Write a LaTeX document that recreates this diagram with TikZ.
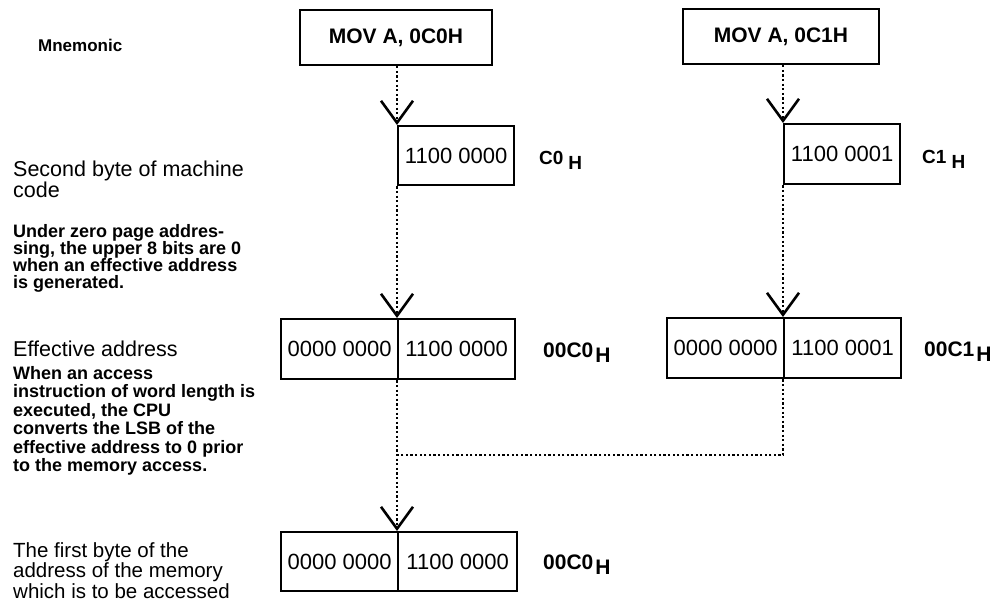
\documentclass[tikz,border=0pt]{standalone}
\usepackage{fontspec}
\setmainfont{Liberation Sans}
\usetikzlibrary{arrows.meta}
\begin{document}
\begin{tikzpicture}[x=1pt,y=-1pt,
  box/.style={draw,line width=2.3pt,inner sep=0pt,font=\fontsize{22}{22}\selectfont},
  movbox/.style={box,font=\bfseries\fontsize{21}{21}\selectfont,minimum height=55pt},
  bytebox/.style={box,anchor=north west,minimum width=117pt,minimum height=60pt},
  dotline/.style={line width=2.5pt,dash pattern=on 2.2pt off 2.4pt},
  vtip/.style={-{Straight Barb[length=22pt,width=32pt,line width=2.6pt]}},
  head/.style={anchor=base west,inner sep=0pt,font=\fontsize{21.5}{22}\selectfont},
  headb/.style={head,font=\fontsize{20.5}{21}\selectfont},
  small/.style={anchor=base west,inner sep=0pt,font=\bfseries\fontsize{18}{18}\selectfont},
  lab/.style={anchor=base west,inner sep=0pt,font=\bfseries\fontsize{19}{19}\selectfont},
  lablong/.style={lab,font=\bfseries\fontsize{21}{21}\selectfont}]
\useasboundingbox (0,0) rectangle (995,611);

% mnemonic boxes
\node[movbox,minimum width=192pt] (m1) at (396,37.5) {MOV A, 0C0H};
\node[movbox,minimum width=196pt] (m2) at (781,36.5) {MOV A, 0C1H};

% second byte boxes
\node[bytebox,minimum width=116pt,minimum height=59pt] (b1) at (397,125) {1100 0000};
\node[bytebox,minimum width=116pt] (b2) at (783,123) {1100 0001};

% effective address boxes
\node[bytebox] (e1l) at (280,318) {0000 0000};
\node[bytebox] (e1r) at (397,318) {1100 0000};
\node[bytebox] (e2l) at (666,317) {0000 0000};
\node[bytebox] (e2r) at (783,317) {1100 0001};

% first byte box
\node[bytebox,minimum height=59pt] (f1l) at (280,531) {0000 0000};
\node[bytebox,minimum width=119pt,minimum height=59pt] (f1r) at (397,531) {1100 0000};

% connectors
\coordinate (j) at (397,455);
\draw[dotline,vtip] (b1.north west |- m1.south) -- (b1.north west);
\draw[dotline,vtip] (b2.north west |- m2.south) -- (b2.north west);
\draw[dotline,vtip] (b1.south west) -- (e1r.north west);
\draw[dotline,vtip] (b2.south west) -- (e2r.north west);
\draw[dotline,vtip] (e1r.south west) -- (f1r.north west);
\draw[dotline] (e2r.south west) |- (j);

% hex labels
\node[lab] (c0) at (539,164) {C0\hspace{5pt}\raisebox{-5pt}{H}};
\node[lab] (c1) at (922,163) {C1\hspace{5pt}\raisebox{-5pt}{H}};
\node[lablong] (ea1) at (543,357) {00C0\hspace{2pt}\raisebox{-5pt}{H}};
\node[lablong] (ea2) at (924,356) {00C1\hspace{2pt}\raisebox{-5pt}{H}};
\node[lablong] (fa) at (543,569) {00C0\hspace{2pt}\raisebox{-5pt}{H}};

% left column
\node[small,font=\bfseries\fontsize{17}{17}\selectfont] (tm) at (38,51) {Mnemonic};

\node[head] (t1a) at (13,176) {Second byte of machine};
\node[head] (t1b) at (13,197) {code};
\node[small] (s1a) at (13,237) {Under zero page addres-};
\node[small] (s1b) at (13,254) {sing, the upper 8 bits are 0};
\node[small] (s1c) at (13,271) {when an effective address};
\node[small] (s1d) at (13,288) {is generated.};

\node[head] (t2a) at (13,356) {Effective address};
\node[small] (s2a) at (13,379) {When an access};
\node[small] (s2b) at (13,397.5) {instruction of word length is};
\node[small] (s2c) at (13,416) {executed, the CPU};
\node[small] (s2d) at (13,434.5) {converts the LSB of the};
\node[small] (s2e) at (13,453) {effective address to 0 prior};
\node[small] (s2f) at (13,471.5) {to the memory access.};

\node[headb] (t3a) at (13,557) {The first byte of the};
\node[headb] (t3b) at (13,577.5) {address of the memory};
\node[headb] (t3c) at (13,598) {which is to be accessed};
\end{tikzpicture}
\end{document}
